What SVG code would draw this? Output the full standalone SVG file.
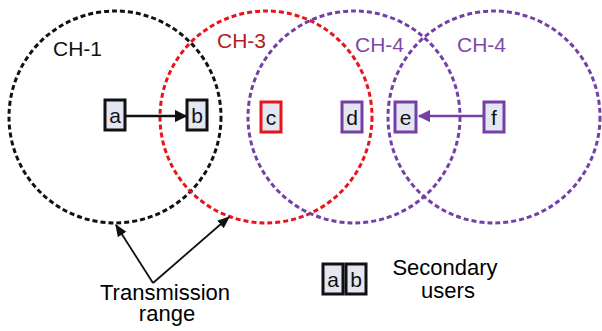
<svg xmlns="http://www.w3.org/2000/svg" width="602" height="331" viewBox="0 0 602 331">
  <style>
    text { font-family: "Liberation Sans", Arial, sans-serif; }
    .lbl { font-size: 21px; }
    .su { font-size: 21px; fill: #111; text-anchor: middle; }
    .cap { font-size: 22px; fill: #000; text-anchor: middle; }
    .range { fill: none; stroke-width: 3; stroke-dasharray: 5 3; }
    .box { fill: #e4e6f2; stroke-width: 3; }
  </style>
  <defs>
    <marker id="arrBlack" viewBox="0 0 10 10" refX="9" refY="5" markerWidth="5" markerHeight="5" markerUnits="strokeWidth" orient="auto">
      <path d="M0,0 L10,5 L0,10 z" fill="#111"/>
    </marker>
    <marker id="arrPurple" viewBox="0 0 10 10" refX="9" refY="5" markerWidth="5" markerHeight="5" markerUnits="strokeWidth" orient="auto">
      <path d="M0,0 L10,5 L0,10 z" fill="#7440a6"/>
    </marker>
    <marker id="arrThin" viewBox="0 0 10 10" refX="9" refY="5" markerWidth="7" markerHeight="7" markerUnits="strokeWidth" orient="auto">
      <path d="M0,1 L10,5 L0,9 z" fill="#111"/>
    </marker>
  </defs>

  <rect width="602" height="331" fill="#fff"/>

  <!-- transmission ranges -->
  <g id="ranges">
    <circle class="range" cx="115" cy="117" r="106" stroke="#111"/>
    <circle class="range" cx="266" cy="117" r="106" stroke="#e8141c"/>
    <circle class="range" cx="354" cy="117" r="106" stroke="#7440a6" stroke-width="2.6"/>
    <circle class="range" cx="494" cy="117" r="106" stroke="#7440a6" stroke-width="2.6"/>
  </g>

  <!-- channel labels -->
  <g id="channel-labels">
    <text class="lbl" x="53" y="56" fill="#111">CH-1</text>
    <text class="lbl" x="217" y="48" fill="#b01c22">CH-3</text>
    <text class="lbl" x="355" y="52" fill="#7a4aa8">CH-4</text>
    <text class="lbl" x="457" y="52" fill="#7a4aa8">CH-4</text>
  </g>

  <!-- links between secondary users -->
  <g id="connectors">
    <line x1="126" y1="116" x2="186" y2="116" stroke="#111" stroke-width="2.5" marker-end="url(#arrBlack)"/>
    <line x1="483" y1="116" x2="419" y2="116" stroke="#7440a6" stroke-width="2.5" marker-end="url(#arrPurple)"/>
    <line x1="153" y1="283" x2="116" y2="225" stroke="#111" stroke-width="1.8" marker-end="url(#arrThin)"/>
    <line x1="153" y1="283" x2="229" y2="217" stroke="#111" stroke-width="1.8" marker-end="url(#arrThin)"/>
  </g>

  <!-- secondary users -->
  <g id="node-a">
    <rect class="box" x="105" y="100" width="20" height="30" stroke="#111"/>
    <text class="su" x="115" y="123">a</text>
  </g>
  <g id="node-b">
    <rect class="box" x="187" y="100" width="20" height="30" stroke="#111"/>
    <text class="su" x="197" y="123">b</text>
  </g>
  <g id="node-c">
    <rect class="box" x="261" y="102" width="20" height="30" stroke="#e8141c"/>
    <text class="su" x="271" y="125">c</text>
  </g>
  <g id="node-d">
    <rect class="box" x="342" y="102" width="20" height="30" stroke="#7440a6"/>
    <text class="su" x="352" y="125">d</text>
  </g>
  <g id="node-e">
    <rect class="box" x="395" y="102" width="21" height="30" stroke="#7440a6"/>
    <text class="su" x="405.5" y="125">e</text>
  </g>
  <g id="node-f">
    <rect class="box" x="484" y="102" width="20" height="30" stroke="#7440a6"/>
    <text class="su" x="494" y="125">f</text>
  </g>

  <!-- legend -->
  <g id="legend">
    <rect class="box" x="323" y="264" width="20" height="30" stroke="#111"/>
    <text class="su" x="333" y="287">a</text>
    <rect class="box" x="346" y="264" width="20" height="30" stroke="#111"/>
    <text class="su" x="356" y="287">b</text>
    <text class="cap" x="445" y="275">Secondary</text>
    <text class="cap" x="448" y="298">users</text>
  </g>

  <g id="range-caption">
    <text class="cap" x="165" y="300">Transmission</text>
    <text class="cap" x="167" y="321">range</text>
  </g>
</svg>
